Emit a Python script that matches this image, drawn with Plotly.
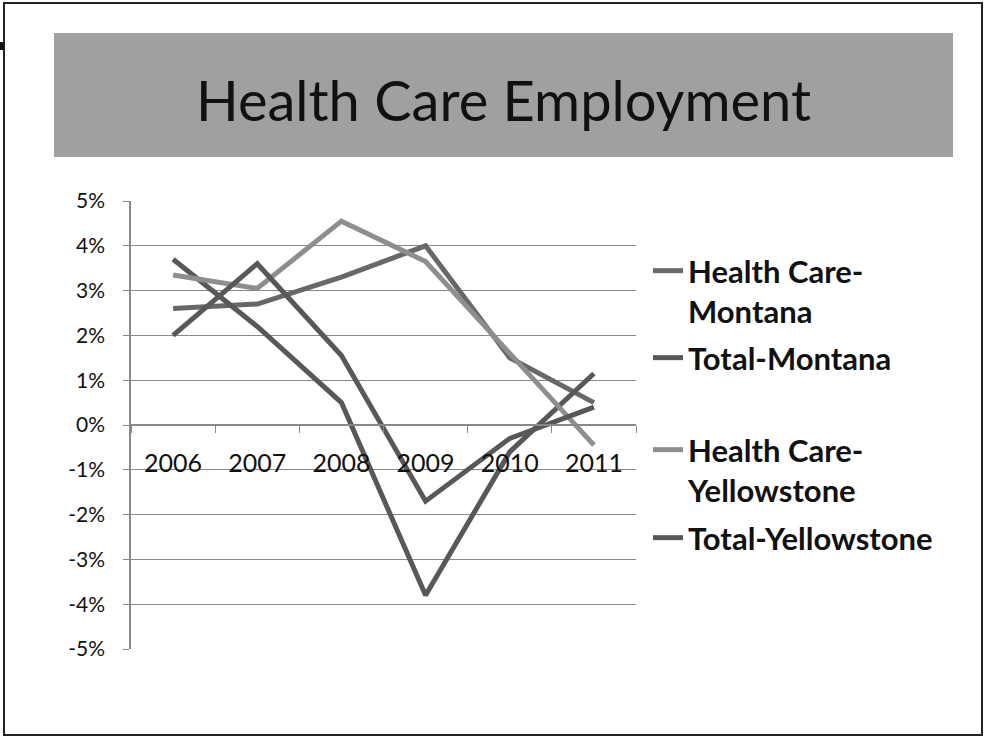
import plotly.graph_objects as go

categories = ["2006", "2007", "2008", "2009", "2010", "2011"]
hc_montana = [2.6, 2.7, 3.3, 4.0, 1.5, 0.5]
total_montana = [3.7, 2.2, 0.5, -3.8, -0.6, 1.15]
hc_yellowstone = [3.35, 3.05, 4.55, 3.65, 1.6, -0.45]
total_yellowstone = [2.0, 3.6, 1.55, -1.7, -0.3, 0.4]
y_tickvals = [5, 4, 3, 2, 1, 0, -1, -2, -3, -4, -5]
y_ticktext = ["5%", "4%", "3%", "2%", "1%", "0%", "-1%", "-2%", "-3%", "-4%", "-5%"]
title_text = "Health Care Employment"

W, H = 984, 738
FONT = "Lato"

def px(x):
    return x / W

def py(y):
    return 1 - y / H

series = [
    ("Health Care-<br>Montana", hc_montana, "#686868", "legend", 291, "top"),
    ("Total-Montana", total_montana, "#585858", "legend2", 358, "middle"),
    ("Health Care-<br>Yellowstone", hc_yellowstone, "#8e8e8e", "legend3", 470, "top"),
    ("Total-Yellowstone", total_yellowstone, "#585858", "legend4", 538, "middle"),
]

fig = go.Figure()
for name, vals, color, leg, _, _ in series:
    fig.add_trace(go.Scatter(
        x=categories, y=vals, mode="lines", name=name,
        line=dict(color=color, width=5), legend=leg,
    ))

y_dom = [py(649), py(201)]
legend_common = dict(
    font=dict(family=FONT, size=31, color="#111111", weight="bold"),
    bgcolor="rgba(0,0,0,0)", xanchor="left", yanchor="middle",
    itemwidth=30,
)
layout_legends = {}
for i, (name, vals, color, leg, yc, valign) in enumerate(series):
    layout_legends[leg] = dict(legend_common, x=px(648), y=py(yc), valign=valign)

fig.update_layout(
    width=W, height=H,
    margin=dict(l=0, r=0, t=0, b=0, autoexpand=False),
    paper_bgcolor="white", plot_bgcolor="white",
    showlegend=True,
    font=dict(family=FONT, color="#111111"),
    xaxis=dict(
        type="category", domain=[px(131), px(636)], range=[-0.5, 5.5],
        anchor="free", position=(y_dom[0] + y_dom[1]) / 2,
        showgrid=False, showline=True, linecolor="#888888", linewidth=1.5,
        ticks="outside", tickson="boundaries", ticklen=7, tickcolor="#888888",
        tickfont=dict(family=FONT, size=25, color="#111111"),
        ticklabelstandoff=16, zeroline=False,
    ),
    yaxis=dict(
        domain=y_dom, range=[-5, 5],
        tickvals=y_tickvals, ticktext=y_ticktext,
        showgrid=True, gridcolor="#888888", gridwidth=1.2,
        showline=True, linecolor="#888888", linewidth=1.5,
        ticks="outside", ticklen=6, tickcolor="#888888",
        tickfont=dict(family=FONT, size=21, color="#111111"),
        ticklabelstandoff=14, zeroline=False,
    ),
    shapes=[
        dict(type="rect", xref="paper", yref="paper",
             x0=px(54), x1=px(953), y0=py(157), y1=py(33),
             fillcolor="#a0a0a0", line=dict(width=0), layer="below"),
        dict(type="rect", xref="paper", yref="paper",
             x0=px(4), x1=px(982), y0=py(735), y1=py(3),
             fillcolor="rgba(0,0,0,0)", line=dict(color="#222222", width=2)),
        dict(type="rect", xref="paper", yref="paper",
             x0=px(0), x1=px(4), y0=py(50), y1=py(42),
             fillcolor="#111111", line=dict(width=0)),
    ],
    annotations=[
        dict(text=title_text, xref="paper", yref="paper",
             x=px(503.5), y=py(100), xanchor="center", yanchor="middle",
             showarrow=False, font=dict(family=FONT, size=56, color="#111111")),
    ],
    **layout_legends,
)

fig.write_html(
    "out.html",
    config={"displayModeBar": False},
    post_script="document.body.style.margin='0';document.body.style.overflow='hidden';",
)
